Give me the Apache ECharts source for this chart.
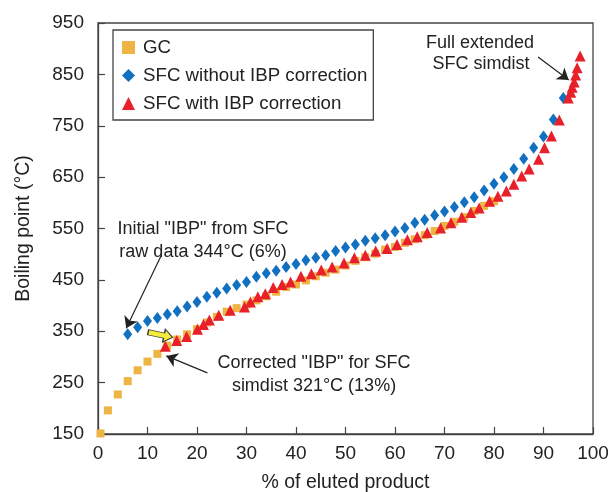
<!DOCTYPE html>
<html><head><meta charset="utf-8">
<script src="https://cdn.jsdelivr.net/npm/echarts@6/dist/echarts.min.js"></script>
<style>html,body{margin:0;padding:0;background:#fff}#c{width:613px;height:492px}</style>
</head><body><div id="c"></div>
<script>
// ---- data ----
const gcX = [0.5, 2, 4, 6, 8, 10, 12, 14, 16, 18, 20, 22, 24, 26, 28, 30, 32, 34, 36, 38, 40, 42, 44, 46, 48, 50, 52, 54, 56, 58, 60, 62, 64, 66, 68, 70, 72, 74, 76, 78, 80];
const gcY = [151, 196, 227, 253, 274, 291, 306, 322, 334, 344, 354, 367, 378, 388, 395, 402, 410, 418, 427, 436, 441, 449, 457, 464, 470, 478, 487, 494, 501, 509, 514, 522, 529, 537, 545, 555, 563, 572, 584, 594, 603];

const sfcRawX = [6, 8, 10, 12, 14, 16, 18, 20, 22, 24, 26, 28, 30, 32, 34, 36, 38, 40, 42, 44, 46, 48, 50, 52, 54, 56, 58, 60, 62, 64, 66, 68, 70, 72, 74, 76, 78, 80, 82, 84, 86, 88, 90, 92, 94];
const sfcRawY = [344, 358, 370, 376, 383, 389, 398, 407, 417, 425, 433, 440, 446, 456, 463, 468, 475, 481, 488, 493, 498, 506, 513, 519, 526, 531, 537, 544, 551, 561, 567, 576, 583, 592, 601, 611, 624, 637, 650, 666, 686, 707, 729, 762, 804];

const sfcCorrX = [13.6, 15.9, 17.9, 20.1, 21.3, 22.5, 24.4, 26.7, 29.6, 30.8, 32.3, 33.8, 35.4, 37.2, 38.9, 41.0, 43.1, 45.1, 47.3, 49.7, 51.8, 54.0, 56.1, 58.4, 60.4, 62.5, 64.5, 66.5, 69.2, 71.3, 73.5, 75.3, 77.0, 79.1, 80.8, 82.5, 84.0, 85.6, 87.1, 89.0, 90.2, 91.6, 93.2, 95.0, 95.5, 95.8, 96.2, 96.5, 96.8, 97.4];
const sfcCorrY = [321, 332, 340, 354, 363, 372, 381, 391, 397, 407, 417, 423, 435, 441, 446, 457, 462, 469, 475, 483, 493, 498, 506, 511, 519, 528, 534, 542, 551, 561, 572, 581, 590, 603, 613, 623, 636, 652, 666, 685, 707, 730, 761, 804, 815, 825, 835, 849, 863, 886];

const seriesNames = ['GC', 'SFC without IBP correction', 'SFC with IBP correction'];
const yTicks = [150, 250, 350, 450, 550, 650, 750, 850, 950];
const xTicks = [0, 10, 20, 30, 40, 50, 60, 70, 80, 90, 100];

// annotation arrows (data coordinates)
const arrows = [
  [[12.7, 496], [5.7, 356]],
  [[22.1, 269], [13.8, 302]],
  [[88.9, 884], [95.1, 839]]
];
const yellowArrowAt = [12.6, 343];

const zip = (xs, ys) => xs.map((x, i) => [x, ys[i]]);
const FONT = '"Liberation Sans", Arial, Helvetica, sans-serif';

const chart = echarts.init(document.getElementById('c'), null, {renderer: 'canvas'});
chart.setOption({
  animation: false,
  backgroundColor: '#fff',
  textStyle: {fontFamily: FONT},
  grid: {left: 98, right: 20, top: 23, bottom: 58, show: true, borderColor: '#444', borderWidth: 1.3, containLabel: false, outerBoundsMode: 'none'},
  legend: {
    data: [
      {name: seriesNames[0], icon: 'rect'},
      {name: seriesNames[1], icon: 'diamond'},
      {name: seriesNames[2], icon: 'triangle'}
    ],
    orient: 'vertical', left: 113, top: 30,
    padding: [8, 6, 7, 9],
    itemWidth: 13, itemHeight: 13, itemGap: 9,
    borderColor: '#444', borderWidth: 1.3, borderRadius: 0,
    textStyle: {fontSize: 18.7, color: '#222', fontFamily: FONT, padding: [0, 0, 0, 3]}
  },
  xAxis: {
    type: 'value', min: 0, max: 100,
    name: '% of eluted product', nameLocation: 'middle', nameGap: 39,
    nameTextStyle: {fontSize: 19.5, color: '#222', fontFamily: FONT},
    axisLine: {show: true, lineStyle: {color: '#444', width: 1.3}},
    axisTick: {show: true, inside: true, length: 7, customValues: xTicks, lineStyle: {color: '#444', width: 1.2}},
    axisLabel: {customValues: xTicks, fontSize: 19, color: '#222', margin: 10, fontFamily: FONT},
    splitLine: {show: false}
  },
  yAxis: {
    type: 'value', min: 150, max: 950,
    name: 'Boiling point (°C)', nameLocation: 'middle', nameGap: 64, nameRotate: 90,
    nameTextStyle: {fontSize: 19.5, color: '#222', fontFamily: FONT},
    axisLine: {show: true, lineStyle: {color: '#444', width: 1.3}},
    axisTick: {show: true, inside: true, length: 7, customValues: yTicks, lineStyle: {color: '#444', width: 1.2}},
    axisLabel: {customValues: yTicks, fontSize: 19, color: '#222', margin: 14, fontFamily: FONT},
    splitLine: {show: false}
  },
  series: [
    {
      name: seriesNames[0], type: 'scatter', symbol: 'rect', symbolSize: 8,
      itemStyle: {color: '#EEB444', opacity: 1}, data: zip(gcX, gcY), z: 2,
      markPoint: {
        silent: true,
        symbol: 'path://M0,3 L13,3 L13,0 L20,5 L13,10 L13,7 L0,7 Z',
        symbolSize: [25, 13], symbolRotate: -12, symbolKeepAspect: false,
        itemStyle: {color: '#F4EC3C', borderColor: '#333', borderWidth: 1, opacity: 1},
        label: {show: false},
        data: [{coord: yellowArrowAt}]
      }
    },
    {
      name: seriesNames[1], type: 'scatter', symbol: 'diamond', symbolSize: [9, 12],
      itemStyle: {color: '#1170C0', opacity: 1}, data: zip(sfcRawX, sfcRawY), z: 3
    },
    {
      name: seriesNames[2], type: 'scatter', symbol: 'triangle', symbolSize: [11, 11],
      itemStyle: {color: '#E8202A', opacity: 1}, data: zip(sfcCorrX, sfcCorrY), z: 4,
      markLine: {
        silent: true, symbol: ['none', 'arrow'], symbolSize: 11,
        lineStyle: {color: '#222', width: 1.2, type: 'solid', opacity: 1},
        itemStyle: {color: '#222'},
        label: {show: false},
        data: arrows.map(a => [{coord: a[0], symbol: 'none'}, {coord: a[1], symbol: 'arrow', symbolSize: 11}])
      }
    }
  ],
  graphic: [
    {type: 'text', x: 203, y: 229, style: {text: 'Initial "IBP" from SFC', font: '18px ' + FONT, fill: '#222', textAlign: 'center', textVerticalAlign: 'middle'}},
    {type: 'text', x: 203, y: 252, style: {text: 'raw data 344°C (6%)', font: '18px ' + FONT, fill: '#222', textAlign: 'center', textVerticalAlign: 'middle'}},
    {type: 'text', x: 314, y: 363, style: {text: 'Corrected "IBP" for SFC', font: '18px ' + FONT, fill: '#222', textAlign: 'center', textVerticalAlign: 'middle'}},
    {type: 'text', x: 314, y: 386, style: {text: 'simdist 321°C (13%)', font: '18px ' + FONT, fill: '#222', textAlign: 'center', textVerticalAlign: 'middle'}},
    {type: 'text', x: 480, y: 43, style: {text: 'Full extended', font: '18px ' + FONT, fill: '#222', textAlign: 'center', textVerticalAlign: 'middle'}},
    {type: 'text', x: 481, y: 64, style: {text: 'SFC simdist', font: '18px ' + FONT, fill: '#222', textAlign: 'center', textVerticalAlign: 'middle'}}
  ]
});
</script>
</body></html>
